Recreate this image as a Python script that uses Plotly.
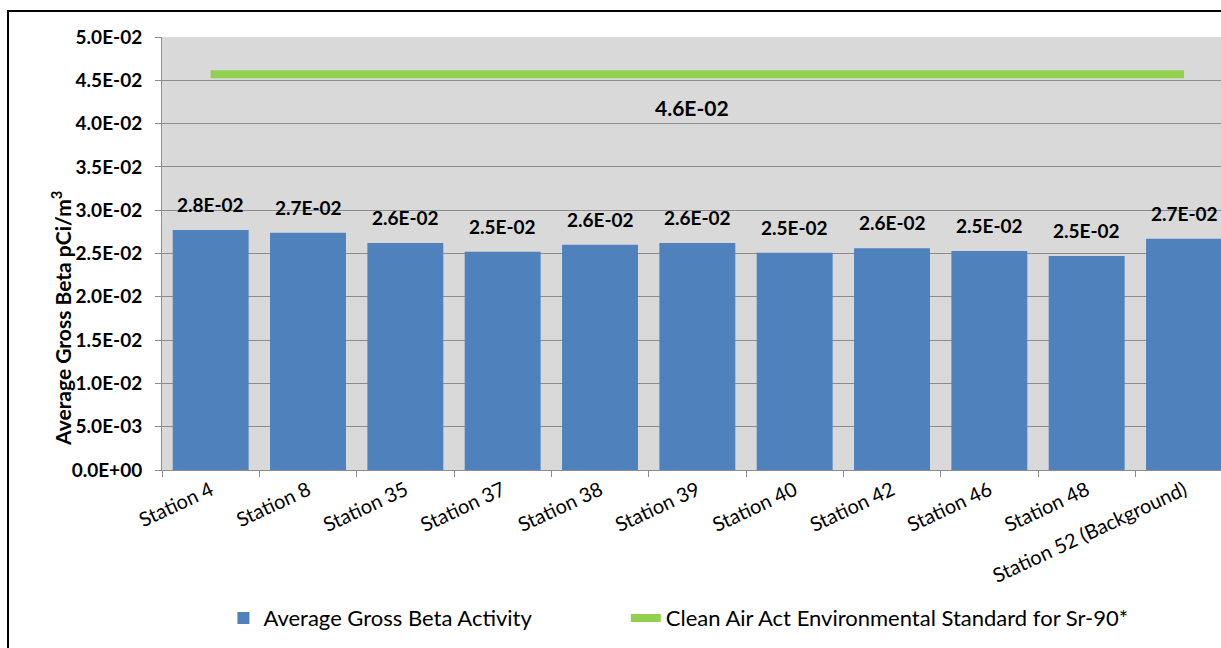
import plotly.graph_objects as go

BLUE = "#4F81BD"
GREEN = "#92D050"
GRID = "#8C8C8C"
FONT = "Lato, 'Open Sans', sans-serif"

stations = [
    "Station 4", "Station 8", "Station 35", "Station 37", "Station 38",
    "Station 39", "Station 40", "Station 42", "Station 46", "Station 48",
    "Station 52 (Background)",
]
gross_beta = [0.0277, 0.0274, 0.0262, 0.0252, 0.0260, 0.0262,
              0.0251, 0.0256, 0.0253, 0.0247, 0.0267]
sr90_standard = 0.0457
y_ticks = [i * 0.005 for i in range(11)]

fig = go.Figure()

fig.add_trace(
    go.Bar(
        x=stations,
        y=gross_beta,
        name="Average Gross Beta Activity",
        marker=dict(color=BLUE, line=dict(width=0)),
        legend="legend",
    )
)

fig.add_trace(
    go.Scatter(
        x=stations,
        y=[sr90_standard] * len(stations),
        mode="lines",
        line=dict(color=GREEN, width=8),
        name="Clean Air Act Environmental Standard for Sr-90*",
        legend="legend2",
    )
)

# data labels sit a little above each bar, as in the spreadsheet chart
for name, val in zip(stations, gross_beta):
    fig.add_annotation(
        x=name, y=val, xref="x", yref="y",
        text=f"<b>{val:.1E}</b>", showarrow=False,
        yanchor="bottom", yshift=12,
        font=dict(family=FONT, size=19, color="black"),
    )

fig.add_annotation(
    x=0.5, xref="paper", y=sr90_standard, yref="y",
    text=f"<b>{sr90_standard:.1E}</b>", showarrow=False, yshift=-33,
    font=dict(family=FONT, size=21, color="black"),
)

# y axis title, placed off-centre like the original
fig.add_annotation(
    x=-0.1105, y=0.351, xref="paper", yref="paper",
    text="<b>Average Gross Beta pCi/m<sup>3</sup></b>", textangle=-90,
    showarrow=False, font=dict(family=FONT, size=21, color="black"),
)

# outer chart border (runs off the right and bottom like the source)
fig.add_shape(
    type="rect", xref="paper", yref="paper",
    x0=-0.1454, x1=1.2, y0=-0.6, y1=1.06,
    line=dict(color="black", width=2), fillcolor="rgba(0,0,0,0)", layer="below",
)

legend_style = dict(
    orientation="h", y=-0.342, yanchor="middle", xanchor="left",
    font=dict(size=22), bgcolor="rgba(0,0,0,0)",
)

fig.update_layout(
    width=1221,
    height=648,
    margin=dict(l=162, r=0, t=37, b=178),
    paper_bgcolor="white",
    plot_bgcolor="#D9D9D9",
    bargap=0.22,
    font=dict(family=FONT, color="black"),
    showlegend=True,
    legend=dict(x=0.058, **legend_style),
    legend2=dict(x=0.438, **legend_style),
    xaxis=dict(
        type="category",
        range=[-0.5, 10.38],
        tickson="boundaries",
        ticks="outside",
        ticklen=6,
        tickcolor=GRID,
        tickangle=-25,
        tickfont=dict(size=20),
        showline=True,
        linecolor=GRID,
        linewidth=1,
        showgrid=False,
    ),
    yaxis=dict(
        range=[0, 0.05],
        tickvals=y_ticks,
        ticktext=[f"<b>{v:.1E}</b>" for v in y_ticks],
        tickfont=dict(size=19),
        ticks="outside",
        ticklen=6,
        tickcolor=GRID,
        ticklabelstandoff=9,
        showline=True,
        linecolor=GRID,
        linewidth=1,
        gridcolor=GRID,
        gridwidth=1,
        zeroline=False,
    ),
)

# drop the default page margin so the figure fills the window exactly
fig.write_html(
    "out.html",
    config={"displayModeBar": False},
    post_script="document.body.style.margin='0';document.body.style.overflow='hidden';",
)
